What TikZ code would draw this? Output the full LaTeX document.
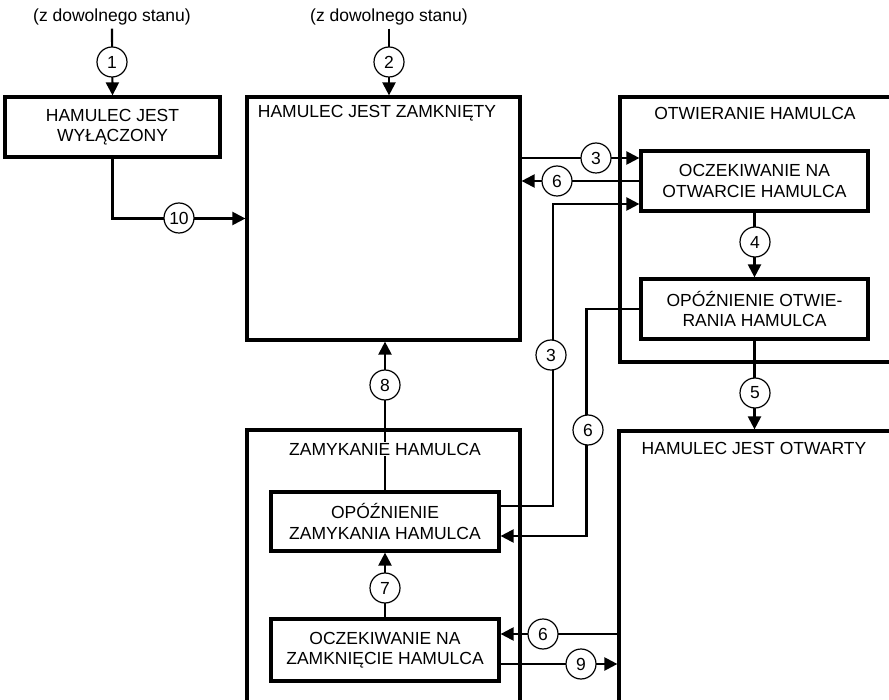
\documentclass[tikz,border=0pt]{standalone}
\usepackage{fontspec}
\setmainfont{Liberation Sans}
\usetikzlibrary{arrows.meta}
\begin{document}
\begin{tikzpicture}[x=1pt,y=-1pt,
  every node/.style={font=\fontsize{17.5}{20.5}\selectfont, text=black},
  statebox/.style={draw, line width=3.2pt, align=center, inner sep=0pt},
  container/.style={draw, line width=3.2pt, inner sep=0pt},
  lbl/.style={inner sep=1pt},
  conn/.style={line width=2.2pt, -{Triangle[length=13pt,width=13pt]}},
  num/.style={circle, draw, line width=1.2pt, fill=white, minimum size=30pt, inner sep=0pt}
]
\clip (0,0) rectangle (889,700);
\fill[white] (0,0) rectangle (889,700);

% containers
\node[container, minimum width=273pt, minimum height=243pt] (closed) at (383.5,218.5) {};
\node[container, minimum width=272pt, minimum height=265pt] (opening) at (756,229.5) {};
\node[container, minimum width=272pt, minimum height=300pt] (opened) at (755,581) {};
\node[container, minimum width=273pt, minimum height=300pt] (closing) at (383.5,580) {};

% state boxes
\node[statebox, minimum width=215pt, minimum height=60pt] (off) at (112.5,127) {HAMULEC JEST\\WYŁĄCZONY};
\node[statebox, minimum width=227pt, minimum height=60pt] (waitopen) at (754.5,181) {OCZEKIWANIE NA\\OTWARCIE HAMULCA};
\node[statebox, minimum width=227pt, minimum height=60pt] (delayopen) at (754.5,309) {OPÓŹNIENIE OTWIE-\\RANIA HAMULCA};
\node[statebox, minimum width=228pt, minimum height=59pt] (delayclose) at (385,521.5) {OPÓŹNIENIE\\ZAMYKANIA HAMULCA};
\node[statebox, minimum width=228pt, minimum height=62pt] (waitclose) at (385,650) {OCZEKIWANIE NA\\ZAMKNIĘCIE HAMULCA};

% top texts
\node (t1) at (112,17) {(z dowolnego stanu)};
\node (t2) at (389,17) {(z dowolnego stanu)};

% helper coordinates
\coordinate (w3) at ([yshift=23pt]waitopen.west);
\coordinate (w3b) at ([yshift=-23pt]waitopen.west);
\coordinate (d3) at ([yshift=15.5pt]delayclose.east);
\coordinate (d6) at ([yshift=-14.5pt]delayclose.east);
\coordinate (c6) at ([yshift=16pt]waitclose.east);
\coordinate (c9) at ([yshift=-14pt]waitclose.east);

% connectors
\draw[conn] (t1.south) -- (off.north);
\draw[conn] (t2.south) -- (t2.south |- closed.north);
\draw[conn] (off.south) |- (closed.west);
\draw[conn] (closed.east |- w3) -- (w3);
\draw[conn] (waitopen.west) -- (waitopen.west -| closed.east);
\draw[conn] (d3) -- ++(52,0) |- (w3b);
\draw[conn] (waitopen.south) -- (delayopen.north);
\draw[conn] (delayopen.west) -- ++(-53,0) |- (d6);
\draw[conn] (delayopen.south) -- (delayopen.south |- opened.north);
\draw[conn] (delayclose.north) -- (delayclose.north |- closed.south);
\draw[conn] (waitclose.north) -- (delayclose.south);
\draw[conn] (opened.west |- c6) -- (c6);
\draw[conn] (c9) -- (opened.west |- c9);

% container labels
\node[lbl] (lclosed) at (377,113) {HAMULEC JEST ZAMKNIĘTY};
\node[lbl] (lopening) at (755,113) {OTWIERANIE HAMULCA};
\node[lbl] (lopened) at (754,448) {HAMULEC JEST OTWARTY};
\node[lbl, fill=white] (lclosing) at (385,449) {ZAMYKANIE HAMULCA};

% numbers
\node[num] (n1) at (112,62) {1};
\node[num] (n2) at (389,62) {2};
\node[num] (n10) at (179,218) {10};
\node[num] (n3a) at (596,158) {3};
\node[num] (n6a) at (557,181) {6};
\node[num] (n3b) at (551,355) {3};
\node[num] (n4) at (755,242) {4};
\node[num] (n6b) at (588,430) {6};
\node[num] (n5) at (755,393) {5};
\node[num] (n8) at (385,385) {8};
\node[num] (n7) at (385,588) {7};
\node[num] (n6c) at (543,634) {6};
\node[num] (n9) at (581,664) {9};
\end{tikzpicture}
\end{document}
